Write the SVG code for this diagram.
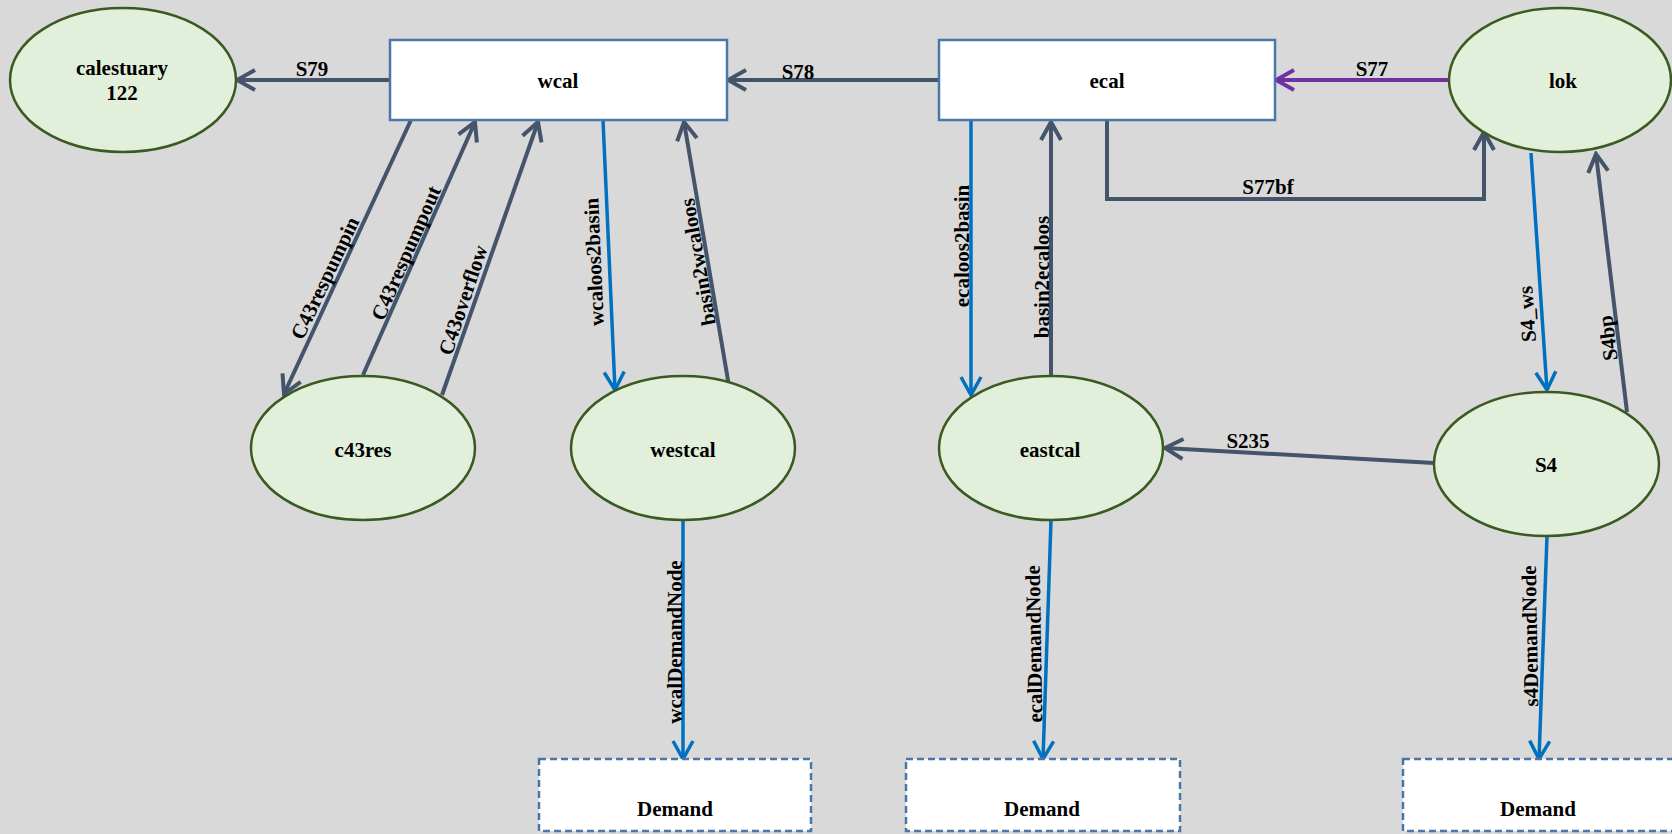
<svg xmlns="http://www.w3.org/2000/svg" width="1672" height="834" viewBox="0 0 1672 834">
  <style>
    text { font-family: "Liberation Serif", "Times New Roman", serif; font-weight: bold; font-size: 21px; fill: #000; }
    .lbl { text-anchor: middle; }
    .vl { text-anchor: middle; dominant-baseline: central; }
    .pool { fill: #e2efda; stroke: #3a5a22; stroke-width: 2.5; }
    .box { fill: #ffffff; stroke: #4a76a8; stroke-width: 2.5; }
    .demand { fill: #ffffff; stroke: #4a76a8; stroke-width: 2.5; stroke-dasharray: 7 4; }
    .gray { fill: none; stroke: #44546a; stroke-width: 4; }
    .blue { fill: none; stroke: #0070c0; stroke-width: 3.5; }
    .purple { fill: none; stroke: #7030a0; stroke-width: 4; }
  </style>
  <defs>
    <marker id="ahGray" markerUnits="userSpaceOnUse" viewBox="0 0 24 24" markerWidth="24" markerHeight="24" refX="21" refY="12" orient="auto">
      <path d="M3,2 L21,12 L3,22" fill="none" stroke="#44546a" stroke-width="4"/>
    </marker>
    <marker id="ahBlue" markerUnits="userSpaceOnUse" viewBox="0 0 24 24" markerWidth="24" markerHeight="24" refX="21" refY="12" orient="auto">
      <path d="M3,2 L21,12 L3,22" fill="none" stroke="#0070c0" stroke-width="3.5"/>
    </marker>
    <marker id="ahPurple" markerUnits="userSpaceOnUse" viewBox="0 0 24 24" markerWidth="24" markerHeight="24" refX="21" refY="12" orient="auto">
      <path d="M3,2 L21,12 L3,22" fill="none" stroke="#7030a0" stroke-width="4"/>
    </marker>
  </defs>

  <rect x="0" y="0" width="1672" height="834" fill="#d9d9d9"/>

  <!-- connectors -->
  <g id="connectors">
    <line class="gray" x1="390" y1="80" x2="237" y2="80" marker-end="url(#ahGray)"/>
    <line class="gray" x1="939" y1="80" x2="728" y2="80" marker-end="url(#ahGray)"/>
    <line class="purple" x1="1450" y1="80" x2="1276" y2="80" marker-end="url(#ahPurple)"/>
    <polyline class="gray" points="1107,120 1107,199 1484,199 1484,132" marker-end="url(#ahGray)"/>

    <line class="gray" x1="411" y1="120" x2="284" y2="394" marker-end="url(#ahGray)"/>
    <line class="gray" x1="363" y1="375" x2="475" y2="122" marker-end="url(#ahGray)"/>
    <line class="gray" x1="442" y1="395" x2="538" y2="122" marker-end="url(#ahGray)"/>

    <line class="blue" x1="603" y1="120" x2="615" y2="390" marker-end="url(#ahBlue)"/>
    <line class="gray" x1="730" y1="392" x2="684" y2="122" marker-end="url(#ahGray)"/>

    <line class="blue" x1="971" y1="120" x2="971" y2="395" marker-end="url(#ahBlue)"/>
    <line class="gray" x1="1051" y1="376" x2="1051" y2="122" marker-end="url(#ahGray)"/>

    <line class="blue" x1="1531" y1="153" x2="1547" y2="390" marker-end="url(#ahBlue)"/>
    <line class="gray" x1="1627" y1="412" x2="1596" y2="154" marker-end="url(#ahGray)"/>

    <line class="gray" x1="1434" y1="463" x2="1165" y2="448" marker-end="url(#ahGray)"/>

    <line class="blue" x1="683" y1="520" x2="683" y2="759" marker-end="url(#ahBlue)"/>
    <line class="blue" x1="1051" y1="520" x2="1043" y2="759" marker-end="url(#ahBlue)"/>
    <line class="blue" x1="1547" y1="536" x2="1539" y2="759" marker-end="url(#ahBlue)"/>

    <!-- connector labels -->
    <text class="lbl" x="312" y="76">S79</text>
    <text class="lbl" x="798" y="79">S78</text>
    <text class="lbl" x="1372" y="76">S77</text>
    <text class="lbl" x="1268" y="194">S77bf</text>
    <text class="lbl" x="1248" y="448">S235</text>
    <text class="vl" transform="translate(325,278) rotate(-64.6)">C43respumpin</text>
    <text class="vl" transform="translate(406,253) rotate(-66.3)">C43respumpout</text>
    <text class="vl" transform="translate(463,300) rotate(-71.4)">C43overflow</text>
    <text class="vl" transform="translate(594,262) rotate(-92.5)">wcaloos2basin</text>
    <text class="vl" transform="translate(698,262) rotate(-100)">basin2wcaloos</text>
    <text class="vl" transform="translate(962,246) rotate(-90)">ecaloos2basin</text>
    <text class="vl" transform="translate(1042,277) rotate(-90)">basin2ecaloos</text>
    <text class="vl" transform="translate(1527,314) rotate(-93.9)">S4_ws</text>
    <text class="vl" transform="translate(1608,338) rotate(-97)">S4bp</text>
    <text class="vl" transform="translate(675,642) rotate(-90)">wcalDemandNode</text>
    <text class="vl" transform="translate(1034,644) rotate(-91)">ecalDemandNode</text>
    <text class="vl" transform="translate(1530,636) rotate(-91)">s4DemandNode</text>
  </g>

  <!-- nodes -->
  <g id="calestuary">
    <ellipse class="pool" cx="123" cy="80" rx="113" ry="72"/>
    <text class="lbl" x="122" y="75">calestuary</text>
    <text class="lbl" x="122" y="100">122</text>
  </g>
  <g id="wcal">
    <rect class="box" x="390" y="40" width="337" height="80"/>
    <text class="lbl" x="558" y="88">wcal</text>
  </g>
  <g id="ecal">
    <rect class="box" x="939" y="40" width="336" height="80"/>
    <text class="lbl" x="1107" y="88">ecal</text>
  </g>
  <g id="lok">
    <ellipse class="pool" cx="1560" cy="80" rx="111" ry="72"/>
    <text class="lbl" x="1563" y="88">lok</text>
  </g>
  <g id="c43res">
    <ellipse class="pool" cx="363" cy="448" rx="112" ry="72"/>
    <text class="lbl" x="363" y="457">c43res</text>
  </g>
  <g id="westcal">
    <ellipse class="pool" cx="683" cy="448" rx="112" ry="72"/>
    <text class="lbl" x="683" y="457">westcal</text>
  </g>
  <g id="eastcal">
    <ellipse class="pool" cx="1051" cy="448" rx="112" ry="72"/>
    <text class="lbl" x="1050" y="457">eastcal</text>
  </g>
  <g id="S4">
    <ellipse class="pool" cx="1546.5" cy="464" rx="112.5" ry="72"/>
    <text class="lbl" x="1546" y="472">S4</text>
  </g>
  <g id="demand-wcal">
    <rect class="demand" x="539" y="759" width="272" height="72"/>
    <text class="lbl" x="675" y="816">Demand</text>
  </g>
  <g id="demand-ecal">
    <rect class="demand" x="906" y="759" width="274" height="72"/>
    <text class="lbl" x="1042" y="816">Demand</text>
  </g>
  <g id="demand-s4">
    <rect class="demand" x="1403" y="759" width="272" height="72"/>
    <text class="lbl" x="1538" y="816">Demand</text>
  </g>
</svg>
